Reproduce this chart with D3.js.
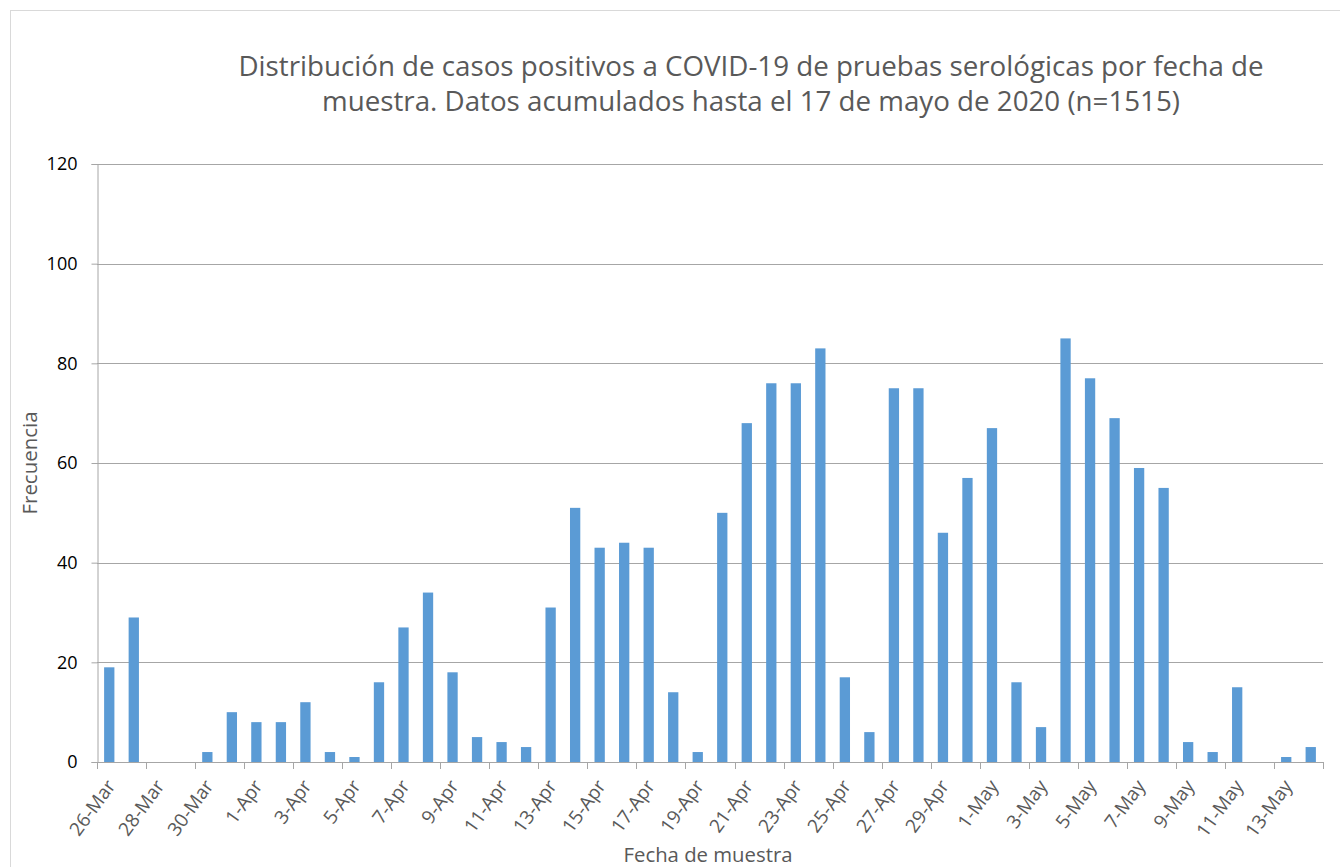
<!DOCTYPE html>
<html>
<head>
<meta charset="utf-8">
<script src="https://cdn.jsdelivr.net/npm/d3@7"></script>
<style>
  html, body { margin: 0; padding: 0; background: #fff; }
  #chart { width: 1340px; height: 867px; }
  text { font-family: "Open Sans", "Noto Sans", sans-serif; }
</style>
</head>
<body>
<div id="chart"></div>
<script>
// fechas de muestra (26-Mar a 14-May)
const dates = [
    "26-Mar", "27-Mar", "28-Mar", "29-Mar", "30-Mar", "31-Mar",
    "1-Apr", "2-Apr", "3-Apr", "4-Apr", "5-Apr", "6-Apr", "7-Apr", "8-Apr", "9-Apr", "10-Apr",
    "11-Apr", "12-Apr", "13-Apr", "14-Apr", "15-Apr", "16-Apr", "17-Apr", "18-Apr", "19-Apr", "20-Apr",
    "21-Apr", "22-Apr", "23-Apr", "24-Apr", "25-Apr", "26-Apr", "27-Apr", "28-Apr", "29-Apr", "30-Apr",
    "1-May", "2-May", "3-May", "4-May", "5-May", "6-May", "7-May", "8-May", "9-May", "10-May",
    "11-May", "12-May", "13-May", "14-May"
];

// casos positivos por día
const cases = [
    19, 29, 0, 0, 2, 10,
    8, 8, 12, 2, 1, 16, 27, 34, 18, 5,
    4, 3, 31, 51, 43, 44, 43, 14, 2, 50,
    68, 76, 76, 83, 17, 6, 75, 75, 46, 57,
    67, 16, 7, 85, 77, 69, 59, 55, 4, 2,
    15, 0, 1, 3
];

const yTicks = [0, 20, 40, 60, 80, 100, 120];

const titleLines = [
    "Distribución de casos positivos a COVID-19 de pruebas serológicas por fecha de",
    "muestra. Datos acumulados hasta el 17 de mayo de 2020 (n=1515)"
];

const width = 1340, height = 867;
const margin = { top: 164, right: 17, bottom: 105, left: 97 };

const svg = d3.select("#chart").append("svg")
    .attr("width", width)
    .attr("height", height);

// borde del gráfico
svg.append("rect")
    .attr("x", 10.5).attr("y", 10.5)
    .attr("width", width + 20).attr("height", height + 20)
    .attr("fill", "none")
    .attr("stroke", "#d9d9d9");

const x = d3.scaleBand()
    .domain(dates)
    .range([margin.left, width - margin.right])
    .paddingInner(0.58)
    .paddingOuter(0.29);

const y = d3.scaleLinear()
    .domain([0, 120])
    .range([height - margin.bottom, margin.top]);

// líneas de cuadrícula
svg.append("g")
    .selectAll("line")
    .data(yTicks.filter(d => d > 0))
    .join("line")
    .attr("x1", margin.left)
    .attr("x2", width - margin.right)
    .attr("y1", d => Math.round(y(d)) + 0.5)
    .attr("y2", d => Math.round(y(d)) + 0.5)
    .attr("stroke", "#a6a6a6")
    .attr("stroke-width", 1);

// barras
svg.append("g")
    .selectAll("rect")
    .data(dates.map((d, i) => ({ date: d, value: cases[i] })))
    .join("rect")
    .attr("x", d => x(d.date))
    .attr("width", x.bandwidth())
    .attr("y", d => y(d.value))
    .attr("height", d => y(0) - y(d.value))
    .attr("fill", "#5b9bd5");

// eje Y
const yAxis = svg.append("g")
    .attr("transform", `translate(${margin.left + 0.5},0)`)
    .call(d3.axisLeft(y).tickValues(yTicks).tickSize(6).tickPadding(14));
yAxis.select(".domain").attr("stroke", "#a6a6a6");
yAxis.selectAll(".tick line").attr("stroke", "#a6a6a6");
yAxis.selectAll(".tick text")
    .attr("font-size", 18)
    .attr("fill", "#000")
    .style("font-family", "'Open Sans', sans-serif");

// eje X: marcas cada dos días en el borde de la banda
const step = x.step();
const x0 = margin.left;
const tickPos = d3.range(0, dates.length + 1, 2).map(i => x0 + i * step);
const xg = svg.append("g");
xg.append("line")
    .attr("x1", margin.left)
    .attr("x2", width - margin.right)
    .attr("y1", y(0) + 0.5)
    .attr("y2", y(0) + 0.5)
    .attr("stroke", "#a6a6a6");
xg.selectAll("line.tk")
    .data(tickPos)
    .join("line")
    .attr("class", "tk")
    .attr("x1", d => Math.round(d) + 0.5)
    .attr("x2", d => Math.round(d) + 0.5)
    .attr("y1", y(0))
    .attr("y2", y(0) + 7)
    .attr("stroke", "#a6a6a6");

xg.selectAll("text")
    .data(dates.filter((d, i) => i % 2 === 0))
    .join("text")
    .attr("transform", d => `translate(${x(d) + x.bandwidth() / 2 + 7},${y(0) + 24}) rotate(-54)`)
    .attr("text-anchor", "end")
    .attr("font-size", 19)
    .attr("fill", "#595959")
    .text(d => d);

// título
svg.append("g")
    .selectAll("text")
    .data(titleLines)
    .join("text")
    .attr("x", 751)
    .attr("y", (d, i) => 76 + i * 35)
    .attr("text-anchor", "middle")
    .attr("font-size", 28)
    .attr("fill", "#595959")
    .attr("textLength", (d, i) => i === 0 ? 1025 : 858)
    .attr("lengthAdjust", "spacingAndGlyphs")
    .text(d => d);

// títulos de ejes
svg.append("text")
    .attr("transform", `translate(37,463) rotate(-90)`)
    .attr("text-anchor", "middle")
    .attr("font-size", 20)
    .attr("fill", "#595959")
    .attr("textLength", 103)
    .attr("lengthAdjust", "spacingAndGlyphs")
    .text("Frecuencia");

svg.append("text")
    .attr("x", 708)
    .attr("y", 862)
    .attr("text-anchor", "middle")
    .attr("font-size", 20)
    .attr("fill", "#595959")
    .attr("textLength", 169)
    .attr("lengthAdjust", "spacingAndGlyphs")
    .text("Fecha de muestra");
</script>
</body>
</html>
